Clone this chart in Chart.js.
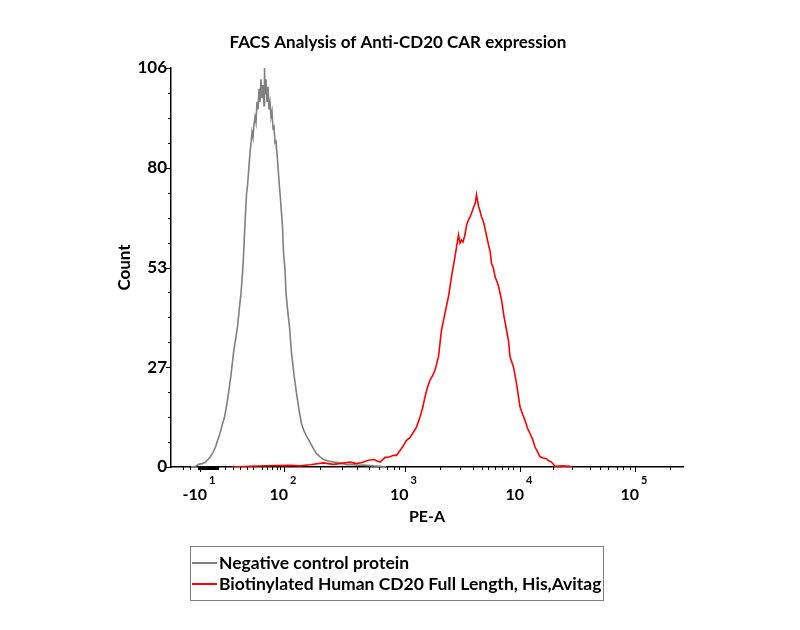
<!DOCTYPE html>
<html>
<head>
<meta charset="utf-8">
<title>FACS Analysis of Anti-CD20 CAR expression</title>
<script src="https://cdn.jsdelivr.net/npm/chart.js@4.4.1/dist/chart.umd.min.js"></script>
<style>
    html, body { margin: 0; padding: 0; background: #ffffff; }
    #wrap { width: 800px; height: 630px; }
</style>
</head>
<body>
<div id="wrap"><canvas id="facs-chart" width="800" height="630"></canvas></div>
<script>
// display channels (0-1024 across the PE-A axis) and event counts
const grayChannel = [40, 48, 55, 62, 68, 74, 78, 84, 89, 94, 98, 103, 107, 111, 115, 120, 125, 129, 133, 137,
    140, 143, 145, 147, 149, 151, 153, 155, 158, 160, 162, 164, 166, 168, 170, 172, 174, 176, 178, 180,
    182, 184, 186, 187, 188, 190, 192, 194, 196, 198, 200, 202, 204, 206, 208, 210, 213, 216, 218, 221,
    223, 225, 228, 230, 233, 237, 241, 246, 251, 256, 261, 266, 271, 275, 281, 286, 291, 298, 305, 315,
    325, 338, 351, 362, 371, 385, 404, 418, 430];
const grayCount = [0, 0.1, 0.7, 0.9, 1.2, 2.0, 2.6, 3.9, 5.3, 7.4, 8.9, 11.5, 13.2, 16.1, 19.6, 24.5, 30.3, 33.8, 37.2, 42.5,
    46.2, 51.5, 56, 62, 67.5, 72.4, 74.6, 78.2, 83.5, 86, 89, 87.5, 91, 93, 91.5, 97, 95, 100.5, 97, 103,
    98, 101.5, 96, 106, 99, 103, 97, 101, 95, 96.8, 93, 94.5, 90, 90.4, 86.1, 86.5, 81.6, 76, 72.8, 67.5,
    63.8, 57, 52.3, 46.2, 42, 37.2, 30.3, 24.5, 19.6, 15.2, 11.5, 9.6, 8.2, 7.3, 5.8, 4.6, 3.6, 2.7, 2.0, 1.6,
    1.3, 1.1, 0.6, 0.7, 0.45, 0.5, 0.3, 0.2, 0];

const redChannel = [122, 158, 208, 238, 258, 278, 305, 324, 338, 358, 371, 382, 395, 405, 418, 428, 438, 445, 451, 458,
    464, 471, 478, 485, 491, 498, 503, 508, 513, 518, 523, 528, 535, 541, 548, 555, 561, 568, 575, 578,
    581, 584, 588, 591, 595, 598, 601, 604, 607, 609, 611, 613, 615, 618, 621, 625, 628, 631, 635, 638,
    641, 645, 648, 652, 655, 658, 661, 666, 671, 675, 678, 685, 691, 698, 703, 708, 713, 718, 723, 728,
    733, 738, 744, 751, 756, 761, 768, 782, 798, 802];
const redCount = [0, 0.2, 0.4, 0.45, 0.3, 0.6, 1.1, 0.7, 0.9, 1.3, 0.9, 1.2, 1.8, 2.0, 1.3, 2.5, 2.7, 3.1, 3.1, 4.4,
    5.5, 7.1, 7.8, 9.3, 10.6, 13.3, 15.6, 18.6, 21.2, 23.1, 24.2, 25.7, 29.3, 36.4, 40.9, 45.3, 50.6, 55.9, 61.7, 59.5,
    60.3, 59.8, 61.7, 64.2, 65.7, 66.4, 67.4, 68.6, 69.6, 70.5, 72.3, 70.8, 69.3, 68, 66.5, 65.1, 63.4, 61.5, 59, 57.5,
    54.1, 52.7, 50.6, 49.2, 48, 46.3, 44.4, 40, 36.4, 33.5, 29.3, 26.6, 22.2, 16, 14.1, 12.4, 10.3, 8.9, 7.4, 5.3,
    4.1, 2.7, 2.4, 2.2, 1.6, 1.3, 0.2, 0.3, 0.2, 0];

const yMax = 106;
const yMajorTicks = [0, 26.5, 53, 79.5, 106];
const yMinorTicks = [6.625, 13.25, 19.875, 33.125, 39.75, 46.375, 59.625, 66.25, 72.875, 86.125, 92.75, 99.375];

const xMajorChannels = [58, 226, 467, 698, 928];
const xMajorBase = ['-10', '10', '10', '10', '10'];
const xMajorExp = ['1', '2', '3', '4', '5'];
const xMinorChannels = [24, 38, 54, 56, 60, 62, 64, 66, 68, 70, 72, 74, 76, 78, 80, 82, 84, 86, 88, 90, 92, 94,
    108, 124, 138, 152, 164, 182, 192, 202, 212, 218,
    298, 341, 371, 395, 415, 431, 445, 455,
    538, 578, 604, 622, 634, 648, 662, 674, 684,
    764, 802, 838, 858, 874, 892, 904, 918,
    998];

const seriesLabels = ['Negative control protein', 'Biotinylated Human CD20 Full Length, His,Avitag'];
const seriesColors = ['#808080', '#ff0000'];

const FONT = 'Lato, "Open Sans", sans-serif';

function toPoints(xs, ys) {
    return xs.map((x, i) => ({ x: x, y: ys[i] }));
}

const facsAxesPlugin = {
    id: 'facsAxes',
    afterDraw(chart) {
        const ctx = chart.ctx;
        const xs = chart.scales.x;
        const ys = chart.scales.y;
        const area = chart.chartArea;

        ctx.save();
        ctx.strokeStyle = '#000000';
        ctx.lineWidth = 1;
        ctx.beginPath();
        yMajorTicks.forEach(v => {
            const py = Math.round(ys.getPixelForValue(v)) + 0.5;
            ctx.moveTo(area.left - 5, py);
            ctx.lineTo(area.left, py);
        });
        yMinorTicks.forEach(v => {
            const py = Math.round(ys.getPixelForValue(v)) + 0.5;
            ctx.moveTo(area.left - 3, py);
            ctx.lineTo(area.left, py);
        });
        xMajorChannels.forEach(ch => {
            const px = Math.round(xs.getPixelForValue(ch)) + 0.5;
            ctx.moveTo(px, area.bottom);
            ctx.lineTo(px, area.bottom + 5);
        });
        xMinorChannels.forEach(ch => {
            const px = Math.round(xs.getPixelForValue(ch)) + 0.5;
            ctx.moveTo(px, area.bottom);
            ctx.lineTo(px, area.bottom + 3);
        });
        ctx.stroke();

        // x tick labels: 10 with a raised exponent
        ctx.fillStyle = '#000000';
        ctx.textBaseline = 'middle';
        ctx.textAlign = 'left';
        xMajorChannels.forEach((ch, i) => {
            const px = xs.getPixelForValue(ch);
            ctx.font = 'bold 16px ' + FONT;
            const wBase = ctx.measureText(xMajorBase[i]).width;
            ctx.font = 'bold 11px ' + FONT;
            const wExp = ctx.measureText(xMajorExp[i]).width;
            const start = px - (wBase + 2 + wExp) / 2 - 1;
            ctx.font = 'bold 16px ' + FONT;
            ctx.fillText(xMajorBase[i], start, area.bottom + 28);
            ctx.font = 'bold 11px ' + FONT;
            ctx.fillText(xMajorExp[i], start + wBase + 2, area.bottom + 13);
        });

        // legend box
        ctx.strokeStyle = '#7f7f7f';
        ctx.lineWidth = 1;
        ctx.strokeRect(190.5, 546.5, 413, 54);
        seriesLabels.forEach((label, i) => {
            const ly = 563 + i * 21;
            ctx.strokeStyle = seriesColors[i];
            ctx.lineWidth = 2;
            ctx.beginPath();
            ctx.moveTo(192, ly);
            ctx.lineTo(217, ly);
            ctx.stroke();
            ctx.fillStyle = '#000000';
            ctx.font = 'bold 17.5px ' + FONT;
            ctx.fillText(label, 219, ly);
        });
        ctx.restore();
    }
};

const ctx = document.getElementById('facs-chart');

new Chart(ctx, {
    type: 'line',
    data: {
        datasets: [{
            label: seriesLabels[0],
            data: toPoints(grayChannel, grayCount),
            borderColor: seriesColors[0],
            borderWidth: 1.6,
            pointRadius: 0,
            tension: 0,
            order: 2
        }, {
            label: seriesLabels[1],
            data: toPoints(redChannel, redCount),
            borderColor: seriesColors[1],
            borderWidth: 1.6,
            pointRadius: 0,
            tension: 0,
            order: 1
        }]
    },
    options: {
        responsive: false,
        animation: false,
        layout: {
            padding: { left: 113, right: 117, top: 10, bottom: 103 }
        },
        plugins: {
            legend: { display: false },
            tooltip: { enabled: false },
            title: {
                display: true,
                text: 'FACS Analysis of Anti-CD20 CAR expression',
                color: '#000000',
                font: { family: FONT, size: 17, weight: 'bold' },
                padding: { top: 22, bottom: 15.6 }
            }
        },
        scales: {
            x: {
                type: 'linear',
                min: 0,
                max: 1024,
                afterFit: (scale) => { scale.height = 60; },
                ticks: { display: false },
                grid: { display: false, drawTicks: false, tickLength: 0 },
                border: { display: true, color: '#000000', width: 1.5 },
                title: {
                    display: true,
                    text: 'PE-A',
                    color: '#000000',
                    font: { family: FONT, size: 16, weight: 'bold' },
                    padding: { top: 0, bottom: 0.5 }
                }
            },
            y: {
                type: 'linear',
                min: 0,
                max: yMax,
                afterFit: (scale) => { scale.width = 58; },
                afterBuildTicks: (scale) => {
                    scale.ticks = yMajorTicks.map(v => ({ value: v }));
                },
                ticks: {
                    color: '#000000',
                    padding: 4,
                    font: { family: FONT, size: 17, weight: 'bold' },
                    callback: (value) => Math.round(value)
                },
                grid: { display: false, drawTicks: false, tickLength: 0 },
                border: { display: true, color: '#000000', width: 1.5 },
                title: {
                    display: true,
                    text: 'Count',
                    color: '#000000',
                    font: { family: FONT, size: 17, weight: 'bold' },
                    padding: { top: 1.8, bottom: 0 }
                }
            }
        }
    },
    plugins: [facsAxesPlugin]
});
</script>
</body>
</html>
